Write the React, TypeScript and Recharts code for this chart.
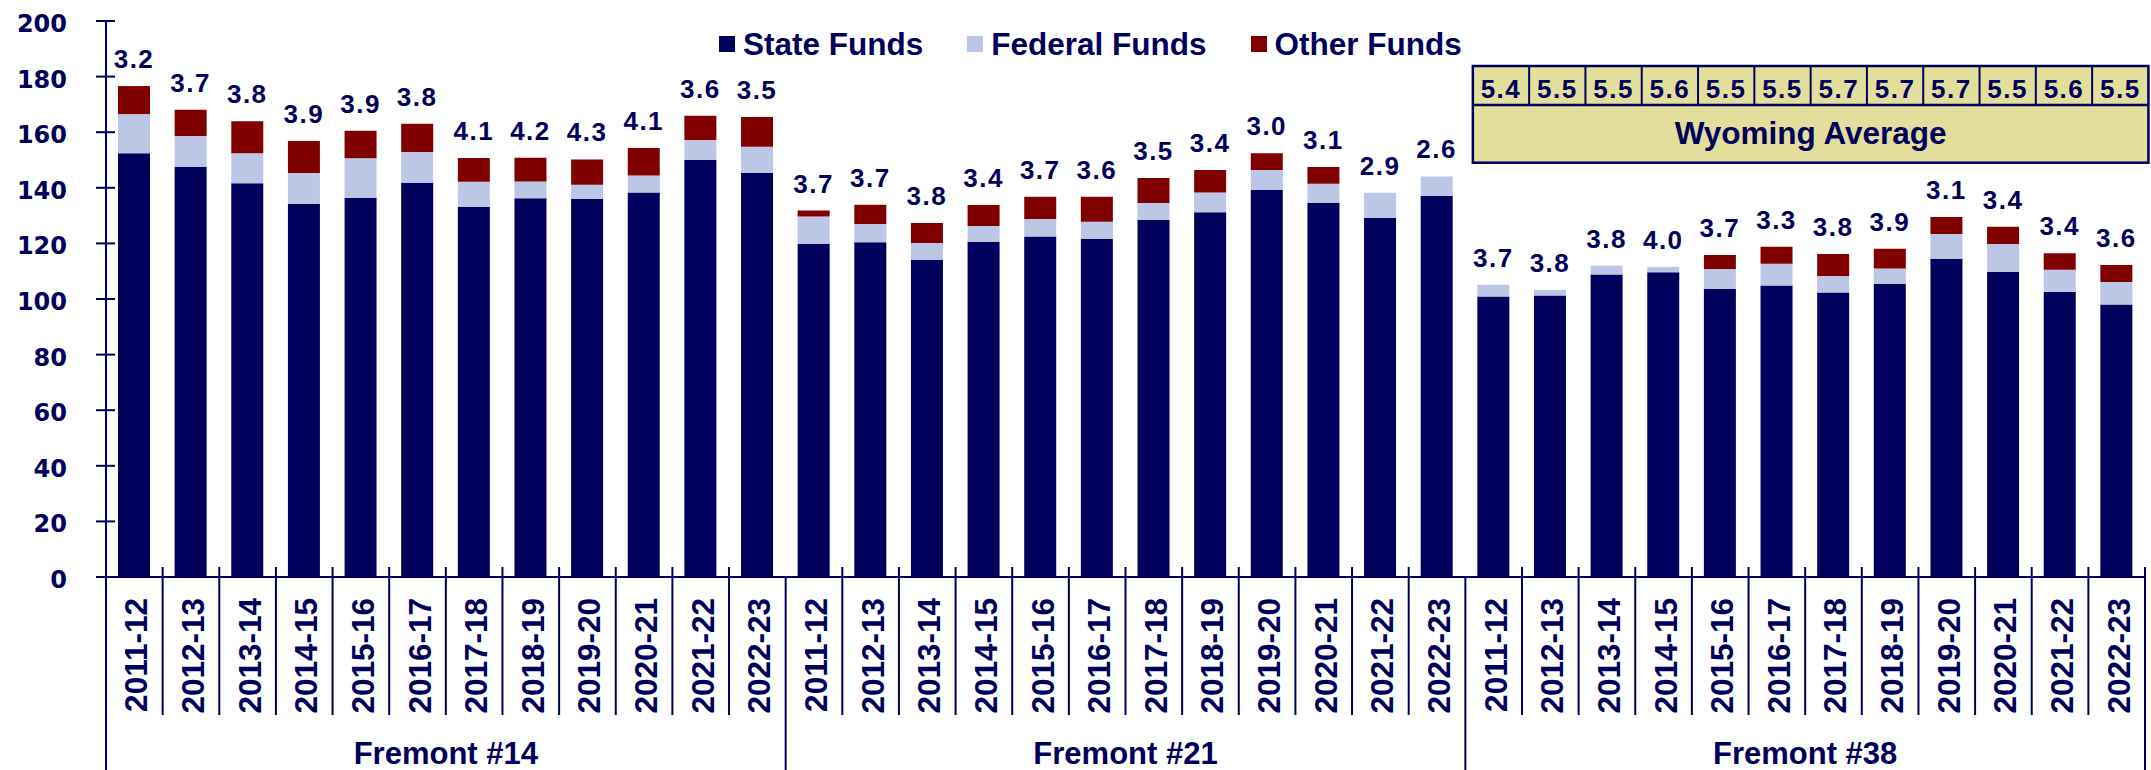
import React from 'react';
import { BarChart, Bar, XAxis, YAxis, LabelList } from 'recharts';

const years = [
  '2011-12', '2012-13', '2013-14', '2014-15', '2015-16', '2016-17',
  '2017-18', '2018-19', '2019-20', '2020-21', '2021-22', '2022-23',
];
const groups = ['Fremont #14', 'Fremont #21', 'Fremont #38'];

const stateFunds = [
  152.4, 147.6, 141.6, 134.2, 136.4, 141.8, 133.2, 136.2, 136.0, 138.3, 150.1, 145.4,
  119.9, 120.4, 114.1, 120.6, 122.5, 121.7, 128.5, 131.2, 139.3, 134.6, 129.1, 137.1,
  100.9, 101.3, 108.8, 109.6, 103.7, 104.9, 102.3, 105.5, 114.5, 109.8, 102.5, 98.0,
];
const federalFunds = [
  14.1, 11.0, 10.8, 11.1, 14.2, 11.1, 9.0, 6.1, 5.1, 6.1, 7.1, 9.4,
  9.8, 6.6, 6.0, 5.7, 6.3, 6.1, 6.0, 7.1, 7.1, 6.9, 9.1, 7.0,
  4.2, 1.9, 3.2, 1.9, 7.1, 7.8, 6.0, 5.5, 8.9, 10.0, 8.0, 8.1,
];
const otherFunds = [
  10.1, 9.5, 11.5, 11.5, 9.9, 10.1, 8.5, 8.5, 9.1, 9.9, 8.7, 10.7,
  2.1, 6.9, 7.2, 7.5, 8.0, 9.0, 9.0, 8.1, 6.0, 6.0, 0, 0,
  0, 0, 0, 0, 5.0, 6.1, 7.9, 7.1, 6.1, 6.2, 6.0, 6.1,
];
const ratios = [
  3.2, 3.7, 3.8, 3.9, 3.9, 3.8, 4.1, 4.2, 4.3, 4.1, 3.6, 3.5,
  3.7, 3.7, 3.8, 3.4, 3.7, 3.6, 3.5, 3.4, 3.0, 3.1, 2.9, 2.6,
  3.7, 3.8, 3.8, 4.0, 3.7, 3.3, 3.8, 3.9, 3.1, 3.4, 3.4, 3.6,
];
const wyomingAvg = [5.4, 5.5, 5.5, 5.6, 5.5, 5.5, 5.7, 5.7, 5.7, 5.5, 5.6, 5.5];
const yTicks = [0, 20, 40, 60, 80, 100, 120, 140, 160, 180, 200];

const NAVY = '#00005c';
const LIGHT = '#bcc6e5';
const MAROON = '#800000';
const KHAKI = '#e3de9b';
const FONT = '"Liberation Sans", Arial, sans-serif';

const W = 2151;
const H = 770;
const PLOT_L = 106;
const PLOT_R = 2145;
const PLOT_T = 21;
const PLOT_B = 577;
const BAND = (PLOT_R - PLOT_L) / (years.length * groups.length);

const legendItems = [
  { name: 'State Funds', color: NAVY },
  { name: 'Federal Funds', color: LIGHT },
  { name: 'Other Funds', color: MAROON },
];

const data = groups.flatMap((g, gi) =>
  years.map((yr, yi) => {
    const i = gi * years.length + yi;
    return {
      key: `${g} ${yr}`,
      year: yr,
      state: stateFunds[i],
      federal: federalFunds[i],
      other: otherFunds[i],
      ratio: ratios[i].toFixed(1),
    };
  })
);

function YTick(props: any) {
  const { x, y, payload } = props;
  return (
    <g>
      <line x1={x - 10} x2={x + 9} y1={y} y2={y} stroke={NAVY} strokeWidth={2} />
      <text
        x={x - 39}
        y={y + 11}
        textAnchor="end"
        fill={NAVY}
        fontFamily='"DejaVu Sans", sans-serif'
        fontWeight="bold"
        fontSize={24}
      >
        {payload.value}
      </text>
    </g>
  );
}

function WyomingTable({ left }: { left: number }) {
  const cellW = 56.3;
  const top = 66;
  const rowH = 39;
  const totalH = 96.7;
  return (
    <g>
      <rect x={left} y={top} width={cellW * 12} height={totalH} fill={KHAKI} stroke={NAVY} strokeWidth={2.5} />
      <line x1={left} x2={left + cellW * 12} y1={top + rowH} y2={top + rowH} stroke={NAVY} strokeWidth={2.5} />
      {wyomingAvg.map((v, k) => (
        <g key={k}>
          {k > 0 && (
            <line x1={left + k * cellW} x2={left + k * cellW} y1={top} y2={top + rowH} stroke={NAVY} strokeWidth={2} />
          )}
          <text
            x={left + k * cellW + cellW / 2}
            y={top + 32}
            textAnchor="middle"
            fill={NAVY}
            fontFamily={FONT}
            fontWeight="bold"
            fontSize={26}
            letterSpacing={1.5}
          >
            {v.toFixed(1)}
          </text>
        </g>
      ))}
      <text
        x={left + cellW * 6}
        y={144}
        textAnchor="middle"
        fill={NAVY}
        fontFamily={FONT}
        fontWeight="bold"
        fontSize={31.5}
      >
        Wyoming Average
      </text>
    </g>
  );
}

function XTick(props: any) {
  const { x, y, payload } = props;
  const index = payload.index ?? props.index;
  const row = data[index];
  const left = x - BAND / 2;
  const groupStart = index % years.length === 0;
  const last = index === data.length - 1;
  const gi = Math.floor(index / years.length);
  return (
    <g>
      <line x1={left} x2={left} y1={groupStart ? y : y - 10} y2={groupStart ? H : 715} stroke={NAVY} strokeWidth={2} />
      {last && <line x1={x + BAND / 2} x2={x + BAND / 2} y1={y - 10} y2={H} stroke={NAVY} strokeWidth={2} />}
      <text
        x={x + 13}
        y={598}
        transform={`rotate(-90 ${x + 13} 598)`}
        textAnchor="end"
        fill={NAVY}
        fontFamily={FONT}
        fontWeight="bold"
        fontSize={31.5}
      >
        {row ? row.year : ''}
      </text>
      {groupStart && (
        <text
          x={left + BAND * 6}
          y={764}
          textAnchor="middle"
          fill={NAVY}
          fontFamily={FONT}
          fontWeight="bold"
          fontSize={31}
        >
          {groups[gi]}
        </text>
      )}
      {index === years.length * 2 && <WyomingTable left={left + 7.5} />}
    </g>
  );
}

// placed on the federal segment so bars with no "other" funds still get a label;
// the stack top is found from the federal segment's own pixel scale
function RatioLabel(props: any) {
  const { x, y, width, height, index, value } = props;
  const row = data[index];
  const pxPerUnit = row && row.federal ? height / row.federal : 0;
  const top = y - (row ? row.other : 0) * pxPerUnit;
  return (
    <text
      x={x + width / 2}
      y={top - 18}
      textAnchor="middle"
      fill={NAVY}
      fontFamily={FONT}
      fontWeight="bold"
      fontSize={26}
      letterSpacing={1.5}
    >
      {value}
    </text>
  );
}

export default function App() {
  return (
    <div style={{ position: 'absolute', left: 0, top: 0, width: W, height: H, background: '#fff' }}>
      <BarChart
        width={W}
        height={H}
        data={data}
        margin={{ top: PLOT_T, right: W - PLOT_R, bottom: 0, left: 0 }}
      >
        <XAxis
          dataKey="key"
          interval={0}
          height={H - PLOT_B}
          tickSize={0}
          tickMargin={0}
          tickLine={false}
          axisLine={{ stroke: NAVY, strokeWidth: 2 }}
          tick={XTick}
        />
        <YAxis
          width={PLOT_L}
          domain={[0, 200]}
          ticks={yTicks}
          interval={0}
          tickSize={0}
          tickMargin={0}
          tickLine={false}
          axisLine={{ stroke: NAVY, strokeWidth: 2 }}
          tick={YTick}
        />
        <Bar dataKey="state" stackId="a" fill={NAVY} barSize={32} isAnimationActive={false} />
        <Bar dataKey="federal" stackId="a" fill={LIGHT} barSize={32} isAnimationActive={false}>
          <LabelList dataKey="ratio" content={RatioLabel} />
        </Bar>
        <Bar dataKey="other" stackId="a" fill={MAROON} barSize={32} isAnimationActive={false} />
      </BarChart>
      <div
        style={{
          position: 'absolute',
          left: 719,
          top: 26,
          display: 'flex',
          alignItems: 'center',
          gap: 44,
          fontFamily: FONT,
          fontWeight: 'bold',
          fontSize: 31.5,
          lineHeight: '36px',
          color: NAVY,
        }}
      >
        {legendItems.map((it) => (
          <div key={it.name} style={{ display: 'flex', alignItems: 'center' }}>
            <span style={{ display: 'inline-block', width: 16, height: 16, background: it.color, marginRight: 8 }} />
            <span>{it.name}</span>
          </div>
        ))}
      </div>
    </div>
  );
}
